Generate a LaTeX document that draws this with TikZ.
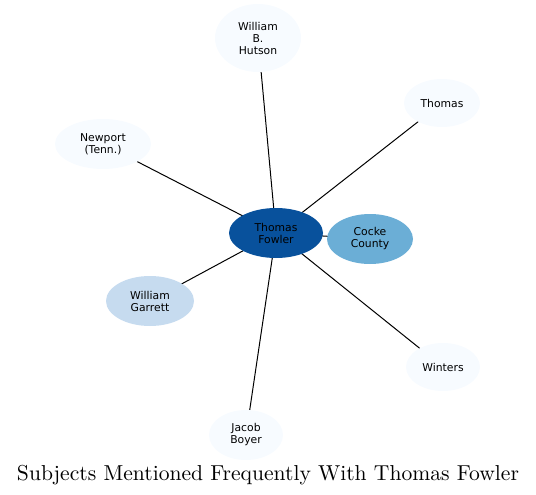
\documentclass[tikz,border=0pt]{standalone}
\usepackage{fontspec}
\newfontfamily\nodefont{DejaVu Sans}
\newfontfamily\titlefont{lmroman10-regular.otf}
\usetikzlibrary{shapes.geometric,backgrounds}
\definecolor{cdark}{HTML}{08519C}
\definecolor{cmid}{HTML}{6BAED6}
\definecolor{clight}{HTML}{C6DBEF}
\definecolor{cpale}{HTML}{F7FBFF}
\tikzset{
  subj/.style={ellipse, inner sep=0pt, align=center, text=black,
    font=\nodefont\fontsize{10.8}{12}\selectfont},
  link/.style={draw=black, line width=1pt},
}
\begin{document}
\begin{tikzpicture}[x=1pt,y=-1pt]
\useasboundingbox (0,0) rectangle (536,495);
\node[subj, fill=cdark, minimum width=94pt, minimum height=50pt] (fowler) at (276,233) {Thomas\\Fowler};
\node[subj, fill=cmid, minimum width=86pt, minimum height=50pt] (cocke) at (370,239) {Cocke\\County};
\node[subj, fill=cpale, minimum width=86pt, minimum height=68pt] (hutson) at (258,38) {William\\B.\\Hutson};
\node[subj, fill=cpale, minimum width=76pt, minimum height=48pt] (thomas) at (442,103) {Thomas};
\node[subj, fill=cpale, minimum width=96pt, minimum height=50pt] (newport) at (103,144) {Newport\\(Tenn.)};
\node[subj, fill=clight, minimum width=88pt, minimum height=50pt] (garrett) at (150,301) {William\\Garrett};
\node[subj, fill=cpale, minimum width=74pt, minimum height=48pt] (winters) at (443,367) {Winters};
\node[subj, fill=cpale, minimum width=74pt, minimum height=50pt] (boyer) at (246,435) {Jacob\\Boyer};
\node[font=\titlefont\fontsize{21.6}{26}\selectfont] (title) at (268,475.5) {Subjects Mentioned Frequently With Thomas Fowler};
\begin{scope}[on background layer]
\draw[link] (fowler.center) -- (hutson.center);
\draw[link] (fowler.center) -- (thomas.center);
\draw[link] (fowler.center) -- (newport.center);
\draw[link] (fowler.center) -- (garrett.center);
\draw[link] (fowler.center) -- (winters.center);
\draw[link] (fowler.center) -- (boyer.center);
\draw[link] (fowler.center) -- (cocke.center);
\end{scope}
\end{tikzpicture}
\end{document}
